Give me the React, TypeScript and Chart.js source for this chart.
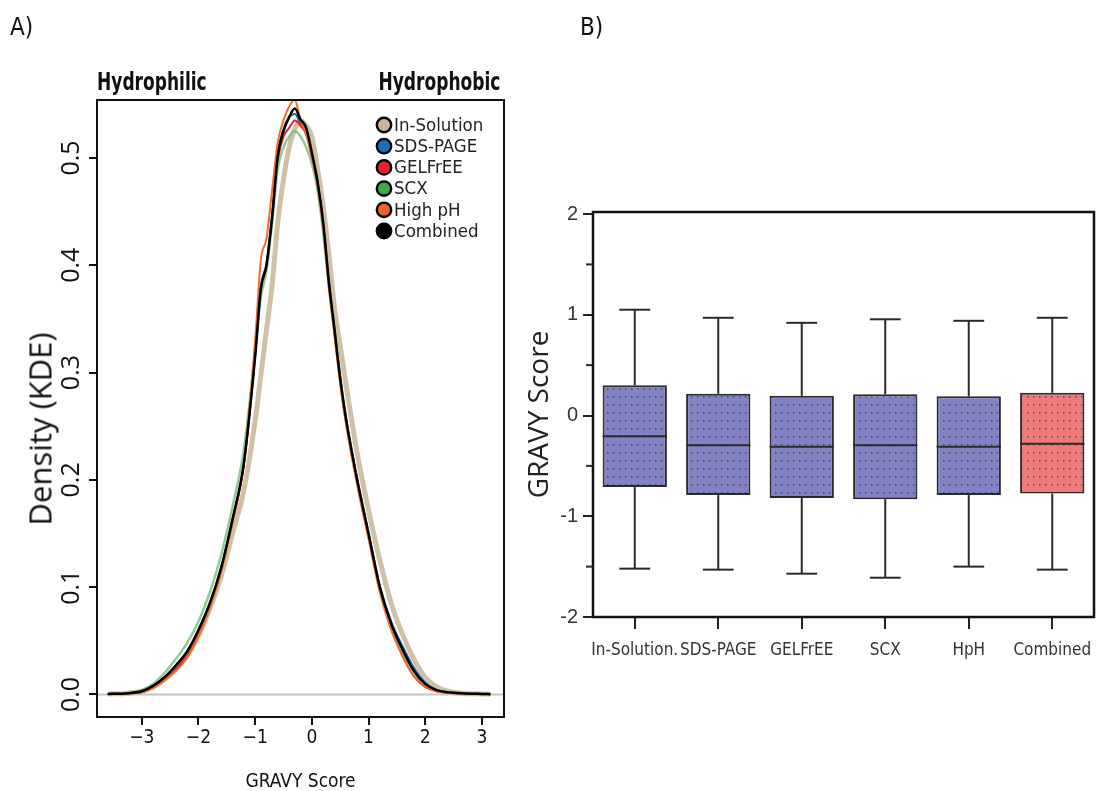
import React, { useEffect, useRef } from "react";
import { Chart, registerables } from "chart.js";

Chart.register(...registerables);

// ---------- Panel A: density (KDE) of GRAVY scores ----------
const GRAVY_X = [
  -3.6, -3.3, -3.0, -2.8, -2.6, -2.4, -2.2, -2.0, -1.8, -1.6, -1.4, -1.2, -1.0, -0.9, -0.8, -0.7, -0.6, -0.5,
  -0.4, -0.3, -0.2, -0.1, 0.0, 0.1, 0.2, 0.3, 0.4, 0.5, 0.6, 0.8, 1.0, 1.2, 1.4, 1.6, 1.8, 2.0, 2.2, 2.4, 2.7,
  3.0, 3.15,
];
const IN_SOLUTION = [
  0.0005, 0.001, 0.003, 0.007, 0.014, 0.024, 0.037, 0.055, 0.08, 0.11, 0.15, 0.19, 0.255, 0.297, 0.34, 0.382,
  0.44, 0.48, 0.51, 0.527, 0.535, 0.53, 0.52, 0.49, 0.455, 0.41, 0.36, 0.325, 0.29, 0.225, 0.172, 0.125, 0.085,
  0.056, 0.033, 0.016, 0.007, 0.003, 0.001, 0.0005, 0.0003,
];
const SDS_PAGE = [
  0.0005, 0.001, 0.003, 0.008, 0.016, 0.027, 0.04, 0.06, 0.085, 0.118, 0.163, 0.215, 0.318, 0.38, 0.402, 0.448,
  0.505, 0.527, 0.538, 0.541, 0.532, 0.524, 0.503, 0.477, 0.438, 0.384, 0.34, 0.296, 0.259, 0.201, 0.151,
  0.101, 0.068, 0.045, 0.025, 0.011, 0.004, 0.002, 0.001, 0.0005, 0.0003,
];
const GELFREE = [
  0.0005, 0.001, 0.002, 0.007, 0.014, 0.024, 0.036, 0.056, 0.082, 0.116, 0.162, 0.214, 0.316, 0.376, 0.398,
  0.444, 0.498, 0.52, 0.528, 0.535, 0.53, 0.522, 0.502, 0.476, 0.437, 0.382, 0.337, 0.292, 0.255, 0.198, 0.148,
  0.098, 0.063, 0.036, 0.017, 0.007, 0.003, 0.0015, 0.0008, 0.0004, 0.0003,
];
const SCX = [
  0.0005, 0.0012, 0.004, 0.01, 0.02, 0.033, 0.048, 0.068, 0.095, 0.13, 0.175, 0.228, 0.32, 0.37, 0.395, 0.44,
  0.49, 0.51, 0.52, 0.525, 0.52, 0.51, 0.495, 0.47, 0.43, 0.38, 0.336, 0.292, 0.256, 0.199, 0.149, 0.099,
  0.065, 0.04, 0.021, 0.009, 0.004, 0.002, 0.001, 0.0005, 0.0003,
];
const HIGH_PH = [
  0.0005, 0.001, 0.002, 0.006, 0.013, 0.022, 0.034, 0.054, 0.08, 0.114, 0.16, 0.215, 0.33, 0.405, 0.425, 0.47,
  0.515, 0.535, 0.548, 0.554, 0.535, 0.522, 0.5, 0.475, 0.435, 0.38, 0.335, 0.29, 0.253, 0.195, 0.145, 0.095,
  0.06, 0.036, 0.017, 0.008, 0.003, 0.0015, 0.0008, 0.0004, 0.0003,
];
const COMBINED = [
  0.0005, 0.001, 0.003, 0.008, 0.016, 0.027, 0.04, 0.06, 0.085, 0.118, 0.163, 0.215, 0.315, 0.378, 0.4, 0.445,
  0.502, 0.525, 0.538, 0.546, 0.536, 0.528, 0.505, 0.478, 0.44, 0.385, 0.34, 0.295, 0.258, 0.2, 0.15, 0.1, 0.066,
  0.042, 0.022, 0.01, 0.004, 0.002, 0.001, 0.0005, 0.0003,
];
const DENSITY_SERIES = [IN_SOLUTION, SDS_PAGE, GELFREE, SCX, HIGH_PH, COMBINED];
const DENSITY_LABELS = ["In-Solution", "SDS-PAGE", "GELFrEE", "SCX", "High pH", "Combined"];
const DENSITY_TICKS = [0, 0.1, 0.2, 0.3, 0.4, 0.5];
const GRAVY_TICKS = [-3, -2, -1, 0, 1, 2, 3];
const GRAVY_RANGE = [-3.79, 3.39];
const DENSITY_RANGE = [-0.021, 0.554];

// styles (kept apart from the data)
const LINE_COLORS = [
  "rgba(204,188,158,0.92)",
  "rgb(30,100,180)",
  "rgb(225,35,40)",
  "rgba(110,185,110,0.75)",
  "rgb(240,110,40)",
  "#000000",
];
const MARKER_COLORS = ["rgb(200,180,150)", "rgb(25,110,190)", "rgb(230,35,40)", "rgb(60,170,70)", "rgb(240,100,40)", "#000000"];
const LINE_WIDTHS = [5, 2, 2, 2.5, 2, 2.5];

// ---------- Panel B: box plots of GRAVY scores ----------
const BOX_CATEGORIES = ["In-Solution.", "SDS-PAGE", "GELFrEE", "SCX", "HpH", "Combined"];
const BOX_Q1 = [-0.71, -0.79, -0.82, -0.83, -0.79, -0.775];
const BOX_Q3 = [0.3, 0.215, 0.195, 0.21, 0.19, 0.225];
const BOX_MEDIAN = [-0.205, -0.295, -0.31, -0.295, -0.31, -0.28];
const BOX_LOW = [-1.52, -1.53, -1.57, -1.61, -1.5, -1.53];
const BOX_HIGH = [1.05, 0.97, 0.92, 0.955, 0.94, 0.97];
const BOX_MAJOR_TICKS = [-2, -1, 0, 1, 2];
const BOX_MINOR_TICKS = [-1.5, -0.5, 0.5, 1.5];
const BOX_RANGE = [-2, 2.02];
const BOX_FILLS = ["rgb(131,131,196)", "rgb(131,131,196)", "rgb(131,131,196)", "rgb(131,131,196)", "rgb(131,131,196)", "rgb(240,122,122)"];

const NARROW = "'Liberation Sans Narrow', 'DejaVu Sans Condensed', 'Open Sans', sans-serif";

function framePlugin(width: number) {
  return {
    id: "frame",
    afterDatasetsDraw(chart: any) {
      const { ctx, chartArea } = chart;
      ctx.save();
      ctx.strokeStyle = "#111";
      ctx.lineWidth = width;
      ctx.strokeRect(chartArea.left, chartArea.top, chartArea.right - chartArea.left, chartArea.bottom - chartArea.top);
      ctx.restore();
    },
  };
}

const densityLegendPlugin = {
  id: "densityLegend",
  afterDraw(chart: any) {
    const { ctx, chartArea } = chart;
    const x0 = chartArea.left + 287;
    const y0 = chartArea.top + 25;
    ctx.save();
    ctx.font = `18.5px ${NARROW}`;
    ctx.textBaseline = "middle";
    ctx.textAlign = "left";
    let row = 0;
    chart.data.datasets.forEach((ds: any) => {
      if (!ds.markerColor) return;
      const y = y0 + row * 21.2;
      ctx.beginPath();
      ctx.arc(x0, y, 7.2, 0, Math.PI * 2);
      ctx.fillStyle = ds.markerColor;
      ctx.fill();
      ctx.lineWidth = 2.4;
      ctx.strokeStyle = "#000";
      ctx.stroke();
      ctx.fillStyle = "#222";
      ctx.fillText(ds.label, x0 + 10, y + 1);
      row++;
    });
    ctx.restore();
  },
};

const boxPlugin = {
  id: "boxWhiskers",
  afterDatasetsDraw(chart: any) {
    const { ctx, chartArea } = chart;
    const ys = chart.scales.y;
    const meta = chart.getDatasetMeta(0);
    ctx.save();
    ctx.strokeStyle = "#2a2a2a";
    ctx.lineWidth = 2;
    ctx.lineCap = "butt";
    const line = (x1: number, y1: number, x2: number, y2: number) => {
      ctx.beginPath();
      ctx.moveTo(x1, y1);
      ctx.lineTo(x2, y2);
      ctx.stroke();
    };
    BOX_MEDIAN.forEach((m, i) => {
      const bar = meta.data[i];
      const cx = bar.x;
      const hw = bar.width / 2;
      const cap = hw * 0.48;
      line(cx - hw, ys.getPixelForValue(m), cx + hw, ys.getPixelForValue(m));
      line(cx, ys.getPixelForValue(BOX_Q3[i]), cx, ys.getPixelForValue(BOX_HIGH[i]));
      line(cx - cap, ys.getPixelForValue(BOX_HIGH[i]), cx + cap, ys.getPixelForValue(BOX_HIGH[i]));
      line(cx, ys.getPixelForValue(BOX_Q1[i]), cx, ys.getPixelForValue(BOX_LOW[i]));
      line(cx - cap, ys.getPixelForValue(BOX_LOW[i]), cx + cap, ys.getPixelForValue(BOX_LOW[i]));
    });
    BOX_MINOR_TICKS.forEach((v) => {
      const y = ys.getPixelForValue(v);
      line(chartArea.left - 7, y, chartArea.left, y);
    });
    ctx.restore();
  },
};

function dotPattern(fill: string): any {
  const c = document.createElement("canvas");
  c.width = 6;
  c.height = 8;
  const g = c.getContext("2d")!;
  g.fillStyle = fill;
  g.fillRect(0, 0, 6, 8);
  g.fillStyle = "rgba(55,55,75,0.8)";
  g.fillRect(3, 4, 1.5, 1.5);
  return g.createPattern(c, "repeat");
}

function DensityPanel() {
  const ref = useRef<HTMLCanvasElement>(null);
  useEffect(() => {
    const datasets: any[] = DENSITY_SERIES.map((ys, i) => ({
      label: DENSITY_LABELS[i],
      data: GRAVY_X.map((x, j) => ({ x, y: ys[j] })),
      borderColor: LINE_COLORS[i],
      markerColor: MARKER_COLORS[i],
      borderWidth: LINE_WIDTHS[i],
      pointRadius: 0,
      showLine: true,
      cubicInterpolationMode: "monotone",
      order: i === 5 ? 0 : i === 0 ? 6 : 5 - i,
    }));
    datasets.push({
      label: "zero",
      data: [
        { x: GRAVY_RANGE[0], y: 0 },
        { x: GRAVY_RANGE[1], y: 0 },
      ],
      borderColor: "#c4c4c4",
      borderWidth: 2,
      pointRadius: 0,
      showLine: true,
      order: 10,
    });
    const chart = new Chart(ref.current!, {
      type: "scatter",
      data: { datasets },
      options: {
        responsive: false,
        animation: false,
        events: [],
        layout: { padding: { left: 0, top: 100, right: 16, bottom: 0 } },
        plugins: { legend: { display: false }, tooltip: { enabled: false } },
        scales: {
          x: {
            type: "linear",
            min: GRAVY_RANGE[0],
            max: GRAVY_RANGE[1],
            afterBuildTicks: (s: any) => {
              s.ticks = GRAVY_TICKS.map((v) => ({ value: v }));
            },
            afterFit: (s: any) => {
              s.height = 74;
              s.paddingLeft = 0;
              s.paddingRight = 0;
            },
            grid: { drawOnChartArea: false, drawTicks: true, tickLength: 8, color: "#111", lineWidth: 2 },
            border: { display: false },
            ticks: {
              font: { family: NARROW, size: 19 },
              color: "#111",
              padding: 2,
              maxRotation: 0,
              autoSkip: false,
              callback: (v: any) => (Number(v) < 0 ? "\u2212" + Math.abs(Number(v)) : String(v)),
            },
            title: {
              display: true,
              text: "GRAVY Score",
              font: { family: NARROW, size: 19 },
              color: "#111",
              padding: { top: 0, bottom: -2 },
            },
          },
          y: {
            type: "linear",
            min: DENSITY_RANGE[0],
            max: DENSITY_RANGE[1],
            afterBuildTicks: (s: any) => {
              s.ticks = DENSITY_TICKS.map((v) => ({ value: v }));
            },
            afterFit: (s: any) => {
              s.width = 97;
            },
            grid: { drawOnChartArea: false, drawTicks: true, tickLength: 8, color: "#111", lineWidth: 2 },
            border: { display: false },
            ticks: {
              font: { family: "'Open Sans', sans-serif", size: 25 },
              color: "#111",
              padding: 0,
              minRotation: 90,
              maxRotation: 90,
              crossAlign: "center",
              callback: (v: any) => Number(v).toFixed(1),
            },
          },
        },
      } as any,
      plugins: [framePlugin(2), densityLegendPlugin],
    });
    return () => chart.destroy();
  }, []);
  return <canvas ref={ref} width={520} height={791} style={{ position: "absolute", left: 0, top: 0 }} />;
}

function BoxPanel() {
  const ref = useRef<HTMLCanvasElement>(null);
  useEffect(() => {
    const chart = new Chart(ref.current!, {
      type: "bar",
      data: {
        labels: BOX_CATEGORIES,
        datasets: [
          {
            label: "IQR",
            data: BOX_Q1.map((q, i) => [q, BOX_Q3[i]]),
            backgroundColor: BOX_FILLS.map((f) => dotPattern(f)),
            borderColor: "#2a2a2a",
            borderWidth: 2,
            borderSkipped: false,
            categoryPercentage: 1,
            barPercentage: 0.77,
          },
        ],
      },
      options: {
        responsive: false,
        animation: false,
        events: [],
        layout: { padding: { left: 0, top: 212, right: 2, bottom: 0 } },
        plugins: { legend: { display: false }, tooltip: { enabled: false } },
        scales: {
          x: {
            type: "category",
            offset: true,
            afterFit: (s: any) => {
              s.height = 174;
              s.paddingLeft = 0;
              s.paddingRight = 0;
            },
            grid: { drawOnChartArea: false, drawTicks: true, tickLength: 12, color: "#222", lineWidth: 2, offset: false },
            border: { display: false },
            ticks: {
              font: { family: NARROW, size: 17 },
              color: "#333",
              padding: 11,
              autoSkip: false,
              maxRotation: 0,
              minRotation: 0,
            },
          },
          y: {
            type: "linear",
            min: BOX_RANGE[0],
            max: BOX_RANGE[1],
            afterBuildTicks: (s: any) => {
              s.ticks = BOX_MAJOR_TICKS.map((v) => ({ value: v }));
            },
            afterFit: (s: any) => {
              s.width = 73;
            },
            grid: { drawOnChartArea: false, drawTicks: true, tickLength: 10, color: "#222", lineWidth: 2 },
            border: { display: false },
            ticks: {
              font: { family: "'Liberation Sans', Arial, sans-serif", size: 20 },
              color: "#333",
              padding: 5,
            },
            title: {
              display: true,
              text: "GRAVY Score",
              font: { family: "'Open Sans', sans-serif", size: 28 },
              color: "#222",
              padding: { top: 3, bottom: 0 },
            },
          },
        },
      } as any,
      plugins: [framePlugin(2.5), boxPlugin],
    });
    return () => chart.destroy();
  }, []);
  return <canvas ref={ref} width={576} height={791} style={{ position: "absolute", left: 520, top: 0 }} />;
}

export default function App() {
  const label = (text: string, style: React.CSSProperties) => (
    <div style={{ position: "absolute", whiteSpace: "nowrap", color: "#111", lineHeight: 1, ...style }}>{text}</div>
  );
  return (
    <div
      style={{
        position: "absolute",
        left: 0,
        top: 0,
        width: 1096,
        height: 791,
        background: "#fff",
        overflow: "hidden",
        fontFamily: NARROW,
      }}
    >
      <DensityPanel />
      <BoxPanel />
      {label("A)", { left: 10, top: 15, fontSize: 24 })}
      {label("B)", { left: 580, top: 15, fontSize: 24 })}
      {label("Hydrophilic", {
        left: 97,
        top: 70,
        fontSize: 24,
        fontWeight: "bold",
        transform: "scaleX(0.79)",
        transformOrigin: "left center",
      })}
      {label("Hydrophobic", {
        right: 1096 - 500,
        top: 70,
        fontSize: 24,
        fontWeight: "bold",
        transform: "scaleX(0.79)",
        transformOrigin: "right center",
      })}
      {label("Density (KDE)", {
        left: 40,
        top: 429,
        fontSize: 31,
        fontFamily: "'Open Sans', sans-serif",
        transform: "translate(-50%, -50%) rotate(-90deg)",
      })}
    </div>
  );
}
